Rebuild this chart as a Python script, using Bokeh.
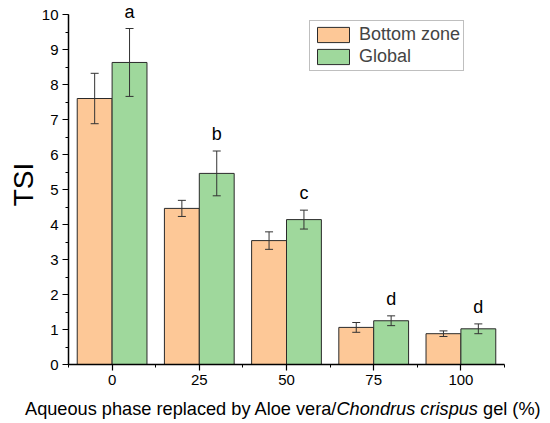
import numpy as np
from bokeh.plotting import figure
from bokeh.models import (ColumnDataSource, Whisker, TeeHead, FixedTicker,
                          LabelSet, Legend, LegendItem, Range1d, Div)
from bokeh.layouts import column
from bokeh.core.properties import value
from bokeh.embed import file_html
from bokeh.resources import INLINE

# ---- data ----
concentrations = ["0", "25", "50", "75", "100"]
bottom_tsi = [7.60, 4.46, 3.54, 1.06, 0.88]
bottom_err = [0.72, 0.23, 0.25, 0.14, 0.08]
global_tsi = [8.63, 5.46, 4.14, 1.25, 1.02]
global_err = [0.97, 0.64, 0.27, 0.14, 0.14]
letters = ["a", "b", "c", "d", "d"]
y_ticks = list(range(0, 11))
series_names = ["Bottom zone", "Global"]

FONT = "Liberation Sans"
ORANGE = "#FDC897"
GREEN = "#9FD89C"
EDGE = "#2a2a2a"

idx = np.arange(len(concentrations))
off = 0.2

bsrc = ColumnDataSource(dict(
    x=idx - off, top=bottom_tsi,
    upper=np.array(bottom_tsi) + np.array(bottom_err),
    lower=np.array(bottom_tsi) - np.array(bottom_err)))
gsrc = ColumnDataSource(dict(
    x=idx + off, top=global_tsi,
    upper=np.array(global_tsi) + np.array(global_err),
    lower=np.array(global_tsi) - np.array(global_err),
    letter=letters))

p = figure(width=540, height=394,
           x_range=Range1d(-0.5, len(concentrations) - 0.5),
           y_range=Range1d(0, 10.286),
           output_backend="svg", toolbar_location=None,
           min_border_left=68, min_border_right=36,
           min_border_top=4, min_border_bottom=30)
p.outline_line_color = None
p.xgrid.visible = False
p.ygrid.visible = False
p.background_fill_color = "white"
p.border_fill_color = "white"

rb = p.vbar(x="x", top="top", width=0.4, source=bsrc, fill_color=ORANGE,
            line_color=EDGE, line_width=1)
rg = p.vbar(x="x", top="top", width=0.4, source=gsrc, fill_color=GREEN,
            line_color=EDGE, line_width=1)

for src in (bsrc, gsrc):
    w = Whisker(source=src, base="x", upper="upper", lower="lower",
                line_color="#333333", line_width=1, level="overlay",
                upper_head=TeeHead(size=8, line_color="#333333", line_width=1),
                lower_head=TeeHead(size=8, line_color="#333333", line_width=1))
    p.add_layout(w)

ls = LabelSet(x="x", y="upper", text="letter", source=gsrc,
              text_align="center", text_baseline="alphabetic", y_offset=11,
              text_font=value(FONT), text_font_size=value("18px"),
              text_color="black")
p.add_layout(ls)

# axes
xa = p.xaxis[0]
xa.ticker = FixedTicker(ticks=list(idx),
                        minor_ticks=list(np.arange(-0.5, len(concentrations), 1.0)))
xa.major_label_overrides = {int(i): c for i, c in zip(idx, concentrations)}
ya = p.yaxis[0]
ya.ticker = FixedTicker(ticks=y_ticks, minor_ticks=list(np.arange(0, 10.01, 0.5)))
ya.bounds = (0, 10)
ya.axis_label = "TSI"
ya.axis_label_text_font = FONT
ya.axis_label_text_font_size = "28px"
ya.axis_label_text_font_style = "normal"
ya.axis_label_text_color = "black"
ya.axis_label_standoff = 0
for ax in (xa, ya):
    ax.axis_line_width = 1.5
    ax.axis_line_color = "black"
    ax.major_tick_line_color = "black"
    ax.minor_tick_line_color = "black"
    ax.major_tick_line_width = 1.2
    ax.minor_tick_line_width = 1
    ax.major_tick_in = 0
    ax.major_tick_out = 6
    ax.minor_tick_in = 0
    ax.minor_tick_out = 3
    ax.major_label_text_font = FONT
    ax.major_label_text_font_size = "15px"
    ax.major_label_text_color = "black"
    ax.major_label_standoff = 4

legend = Legend(items=[LegendItem(label=series_names[0], renderers=[rb]),
                       LegendItem(label=series_names[1], renderers=[rg])],
                location=(241, 293))
legend.glyph_width = 40
legend.glyph_height = 19
legend.label_text_font = FONT
legend.label_text_font_size = "18px"
legend.label_standoff = 6
legend.padding = 3
legend.spacing = 1
legend.margin = 0
legend.border_line_color = "#7f7f7f"
legend.border_line_width = 1
legend.background_fill_alpha = 1
p.add_layout(legend, "center")

xlabel = Div(
    text=('<div style="font-family:\'Liberation Sans\',Arial,sans-serif;'
          'font-size:18.2px;line-height:20px;color:black;white-space:nowrap;'
          'margin:0 0 0 20px;padding:0;">'
          'Aqueous phase replaced by Aloe vera/<i>Chondrus crispus</i> gel (%)</div>'),
    width=540, height=23)

layout = column(p, xlabel, spacing=0)
open("out.html", "w").write(file_html(layout, INLINE))
